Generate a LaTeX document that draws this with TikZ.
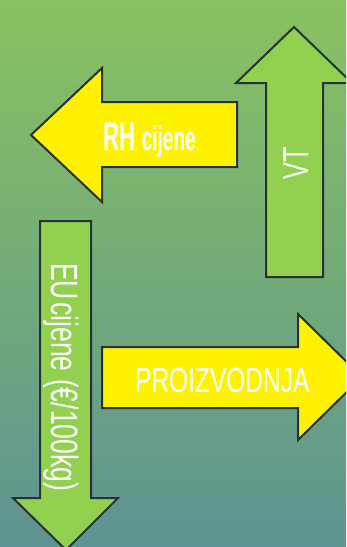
\documentclass[tikz,border=0pt]{standalone}
\usepackage{fontspec}
\usepackage{xcolor}
\usepackage{tikz}
\usetikzlibrary{positioning,calc}
\setmainfont{Liberation Sans}
\newfontfamily\tankifont[FakeStretch=0.7]{Liberation Sans}
\newfontfamily\debelifont[FakeStretch=0.56]{Liberation Sans Bold}
\definecolor{pozgore}{RGB}{137,194,96}
\definecolor{pozdolje}{RGB}{94,148,146}
\definecolor{zelena}{RGB}{146,208,80}
\definecolor{rub}{RGB}{38,50,56}

\begin{document}
\begin{tikzpicture}[x=1pt, y=-1pt,
		strelica/.style={draw=rub, line width=2pt, line join=miter},
		natpis/.style={text=white, inner sep=0}]
					\useasboundingbox (0,0) rectangle (346,547);
					\clip (0,0) rectangle (346,547);
					\shade[top color=pozgore, bottom color=pozdolje] (0,0) rectangle (346,547);
					% lijeva strelica (RH cijene)
					\draw[strelica, fill=yellow] (31,135) -- (102,68) -- (102,102) -- (237,102) -- (237,167) -- (102,167) -- (102,202) -- cycle;
					% strelica gore (VT)
					\draw[strelica, fill=zelena] (294,27) -- (352,83) -- (323,83) -- (323,277) -- (266,277) -- (266,83) -- (236,83) -- cycle;
					% strelica dolje (EU cijene)
					\draw[strelica, fill=zelena] (66,550) -- (118,498) -- (91,498) -- (91,221) -- (40,221) -- (40,498) -- (13,498) -- cycle;
					% desna strelica (PROIZVODNJA)
					\draw[strelica, fill=yellow] (102,347) -- (298,347) -- (298,314) -- (362,377) -- (298,440) -- (298,408) -- (102,408) -- cycle;
					\node[natpis, anchor=base west] (rh) at (103,150) {\debelifont\fontsize{40}{40}\selectfont RH \fontsize{34}{34}\selectfont cijene};
					\node[natpis, anchor=base, rotate=90] (vt) at (308,163) {\tankifont\fontsize{36}{36}\selectfont VT};
					\node[natpis, anchor=base west, rotate=-90] (eu) at (51,263) {\tankifont\fontsize{38}{38}\selectfont EU\hspace{2pt}cijene (€/100kg)};
					\node[natpis, anchor=base west] (pro) at (135,392) {\tankifont\fontsize{35}{35}\selectfont PROIZVODNJA};
				\end{tikzpicture}
\end{document}
